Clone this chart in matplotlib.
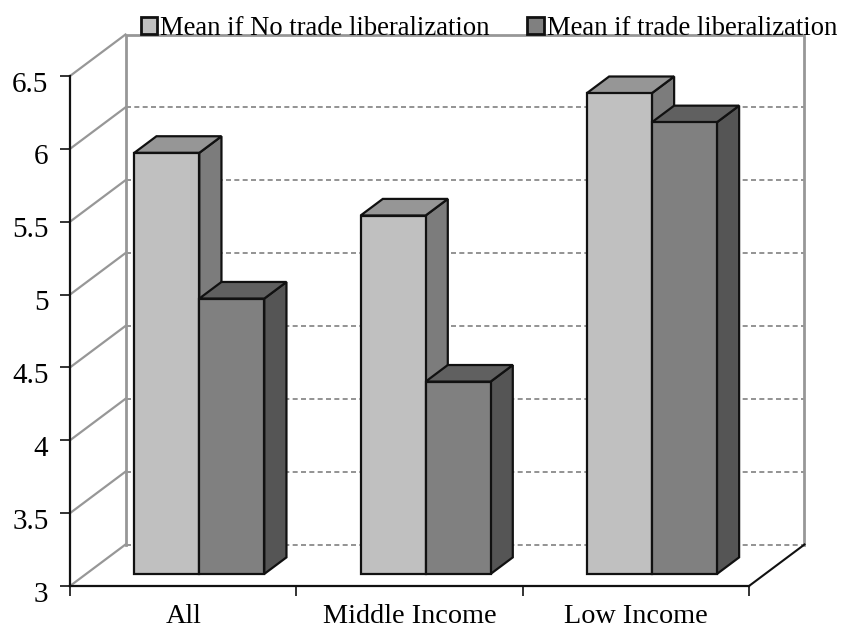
import matplotlib
matplotlib.use("Agg")
import matplotlib.pyplot as plt
from matplotlib.patches import Patch
from matplotlib.transforms import ScaledTranslation

categories = ["All", "Middle Income", "Low Income"]
no_liberalization = [5.89, 5.46, 6.30]
liberalization = [4.89, 4.32, 6.10]
y_ticks = [3, 3.5, 4, 4.5, 5, 5.5, 6, 6.5]
y_labels = ["3", "3.5", "4", "4.5", "5", "5.5", "6", "6.5"]
legend_labels = ["Mean if No trade liberalization", "Mean if trade liberalization"]

plt.rcParams["font.family"] = ["Liberation Serif", "DejaVu Serif"]

fig = plt.figure(figsize=(8.47, 6.30), dpi=100)
ax = fig.add_axes([70 / 847, 44 / 630, 679 / 847, 510 / 630])
ax.set_xlim(0, 3)
ax.set_ylim(3, 6.5)
ax.patch.set_alpha(0)

# oblique depth: how far the back wall sits from the front plane, in data units
DEPTH_X = 55.5 / (679 / 3)
DEPTH_Y = 41.5 / (510 / 3.5)
BAR_W = 65 / (679 / 3)
BAR_NEAR = 0.29
BAR_FAR = 0.69


def proj(x, y, d):
    return x + d * DEPTH_X, y + d * DEPTH_Y


def face(pts, color, z):
    xy = [proj(*p) for p in pts]
    ax.fill([p[0] for p in xy], [p[1] for p in xy], facecolor=color,
            edgecolor="#111111", linewidth=1.6, joinstyle="miter",
            zorder=z, clip_on=False)


def box(x0, val, front, side, top, z):
    x1 = x0 + BAR_W
    n, f = BAR_NEAR, BAR_FAR
    face([(x1, 3, n), (x1, 3, f), (x1, val, f), (x1, val, n)], side, z)
    face([(x0, val, n), (x1, val, n), (x1, val, f), (x0, val, f)], top, z)
    face([(x0, 3, n), (x1, 3, n), (x1, val, n), (x0, val, n)], front, z + 0.1)


# back wall and its dashed grid
wall = "#979797"
for v in y_ticks[:-1]:
    p0, p1 = proj(0, v, 1), proj(3, v, 1)
    ax.plot([p0[0], p1[0]], [p0[1], p1[1]], color="#808080", lw=1.2,
            ls=(0, (3, 2)), zorder=1, clip_on=False)
corners = [proj(0, 3, 1), proj(0, 6.5, 1), proj(3, 6.5, 1), proj(3, 3, 1)]
ax.plot([c[0] for c in corners], [c[1] for c in corners], color=wall, lw=2,
        zorder=1.5, clip_on=False)

# side wall lines running from the front axis back to the wall
for v in y_ticks:
    p1 = proj(0, v, 1)
    ax.plot([0, p1[0]], [v, p1[1]], color=wall, lw=1.6, zorder=1.5, clip_on=False)

# floor edge on the right
p1 = proj(3, 3, 1)
ax.plot([3, p1[0]], [3, p1[1]], color="#111111", lw=1.5, zorder=2, clip_on=False)

for i in range(len(categories)):
    x0 = i + 0.5 - BAR_W
    box(x0, no_liberalization[i], "#c0c0c0", "#7c7c7c", "#969696", 3 + i)
    box(x0 + BAR_W, liberalization[i], "#808080", "#555555", "#606060", 3.5 + i)

for name in ["top", "right"]:
    ax.spines[name].set_visible(False)
for name in ["left", "bottom"]:
    ax.spines[name].set_color("#111111")
    ax.spines[name].set_linewidth(1.6)
    ax.spines[name].set_zorder(6)

ax.set_yticks(y_ticks)
ax.set_yticklabels(y_labels, fontsize=21)
ax.tick_params(axis="y", length=7.5, width=1.2, pad=8, color="#111111")
# the tick numbers sit a little below their ticks
for lab in ax.get_yticklabels():
    lab.set_transform(lab.get_transform() + ScaledTranslation(0, -4 / 72, fig.dpi_scale_trans))

ax.set_xticks([0, 1, 2, 3])
ax.set_xticklabels([])
ax.set_xticks([0.5, 1.5, 2.5], minor=True)
ax.set_xticklabels(categories, minor=True, fontsize=20.3)
ax.tick_params(axis="x", which="major", length=7, width=1.2, color="#111111")
ax.tick_params(axis="x", which="minor", length=0, pad=13)

handles = [Patch(facecolor="#c0c0c0", edgecolor="#111111", linewidth=2),
           Patch(facecolor="#808080", edgecolor="#111111", linewidth=2)]
fig.legend(handles, legend_labels, ncol=2, frameon=False, fontsize=19.2,
           loc="upper left", bbox_to_anchor=(122 / 847, 1.004),
           handlelength=0.62, handleheight=0.62, handletextpad=0.12,
           columnspacing=1.4, borderpad=0.2)

fig.savefig("out.png", dpi=100)
